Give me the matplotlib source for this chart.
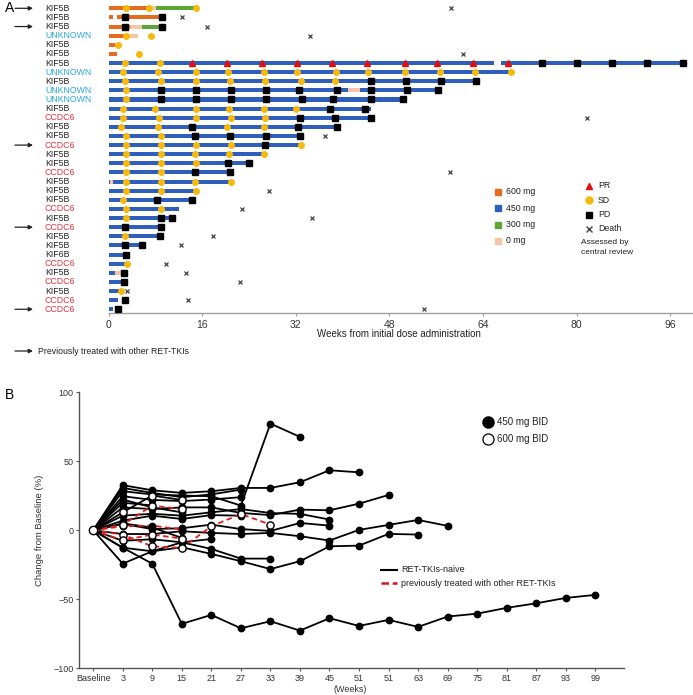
import numpy as np
import matplotlib
matplotlib.use("Agg")
import matplotlib.pyplot as plt
from matplotlib.lines import Line2D
from matplotlib.transforms import blended_transform_factory

plt.rcParams["font.family"] = ["Liberation Sans", "DejaVu Sans"]

W, H = 693, 695

# ── Panel A data ────────────────────────────────────────────────
fusion = ["KIF5B", "KIF5B", "KIF5B", "UNKNOWN", "KIF5B", "KIF5B", "KIF5B",
          "UNKNOWN", "KIF5B", "UNKNOWN", "UNKNOWN", "KIF5B", "CCDC6", "KIF5B",
          "KIF5B", "CCDC6", "KIF5B", "KIF5B", "CCDC6", "KIF5B", "KIF5B",
          "KIF5B", "CCDC6", "KIF5B", "CCDC6", "KIF5B", "KIF5B", "KIF6B",
          "CCDC6", "KIF5B", "CCDC6", "KIF5B", "CCDC6", "CCDC6"]
prior_tki = [0, 2, 15, 24, 33]

# (start week, end week, dose mg)
dosing = [
    [(0, 7.0, 600), (7.0, 8.1, 0), (8.1, 15.0, 300)],
    [(0, 0.8, 600), (1.5, 9.1, 600)],
    [(0, 3.6, 600), (3.6, 5.7, 0), (5.7, 9.1, 300)],
    [(0, 2.8, 600), (2.8, 5.1, 0)],
    [(0, 1.1, 600), (1.1, 2.1, 0)],
    [(0, 1.4, 600)],
    [(0, 65.9, 450), (67.0, 98.7, 450)],
    [(0, 68.8, 450)],
    [(0, 62.8, 450)],
    [(0, 41.0, 450), (41.0, 43.0, 0), (43.0, 56.3, 450)],
    [(0, 50.3, 450)],
    [(0, 44.9, 450)],
    [(0, 44.9, 450)],
    [(0, 39.0, 450)],
    [(0, 32.7, 450)],
    [(0, 32.9, 450)],
    [(0, 26.6, 450)],
    [(0, 24.0, 450)],
    [(0, 20.8, 450)],
    [(0, 0.3, 450), (0.3, 0.8, 0), (0.8, 21.0, 450)],
    [(0, 14.9, 450)],
    [(0, 14.3, 450)],
    [(0, 12.1, 450)],
    [(0, 10.9, 450)],
    [(0, 8.9, 450)],
    [(0, 8.8, 450)],
    [(0, 5.8, 450)],
    [(0, 3.0, 450)],
    [(0, 3.1, 450)],
    [(0, 1.1, 450), (1.1, 2.1, 0)],
    [(0, 2.7, 450)],
    [(0, 2.1, 450)],
    [(0, 1.6, 450)],
    [(0, 0.7, 450)],
]

pr_weeks = {6: [14.2, 20.3, 26.2, 32.2, 38.2, 44.1, 50.7, 56.1, 62.3, 68.2]}
sd_weeks = {
    0: [3.0, 7.0, 15.0], 3: [3.0, 7.2], 4: [1.6], 5: [5.2], 6: [2.8, 8.8],
    7: [2.5, 8.4, 14.9, 20.5, 26.5, 32.3, 38.8, 44.3, 50.7, 56.7, 62.6, 68.8],
    8: [2.8, 8.9, 15.0, 20.8, 26.8, 32.9, 38.7], 9: [3.0], 10: [3.0],
    11: [2.5, 8.0, 14.9, 20.6, 26.6, 32.0], 12: [2.4, 8.6, 15.0, 20.9, 26.8],
    13: [2.2, 8.4, 20.3, 26.5], 14: [3.0, 8.9], 15: [3.0, 8.9, 15.0, 20.9, 32.9],
    16: [3.0, 8.9, 14.8, 20.6, 26.6], 17: [3.0, 8.9, 15.0], 18: [3.0, 8.9],
    19: [3.0, 9.0, 14.7, 21.0], 20: [3.0, 8.9, 14.9], 21: [2.4], 22: [3.0, 8.9],
    23: [3.0], 25: [2.9], 28: [3.1], 31: [2.1],
}
pd_weeks = {
    1: [2.9, 9.1], 2: [2.9, 9.1], 6: [74.1, 80.0, 86.1, 92.1, 98.2],
    8: [44.8, 50.8, 56.8, 62.8],
    9: [9.0, 15.0, 20.9, 26.9, 32.6, 39.0, 44.9, 51.0, 56.3],
    10: [9.0, 15.0, 20.9, 26.9, 33.0, 38.3, 44.9, 50.3], 11: [37.9, 43.8],
    12: [32.7, 38.7, 44.9], 13: [14.3, 32.4, 39.0], 14: [14.8, 20.8, 26.9, 32.7],
    15: [26.8], 17: [20.5, 24.0], 18: [14.8, 20.8], 21: [8.3, 14.3],
    23: [9.0, 10.9], 24: [2.9, 8.9], 25: [8.8], 26: [2.9, 5.8], 27: [3.0],
    29: [2.7], 30: [2.7], 32: [2.9], 33: [1.7],
}
death_week = {0: 58.5, 1: 12.5, 2: 16.8, 3: 34.4, 5: 60.6, 12: 81.7, 14: 37.0,
              18: 58.3, 20: 27.5, 22: 22.9, 23: 34.8, 25: 17.9, 26: 12.4,
              28: 9.9, 29: 13.2, 30: 22.5, 31: 3.1, 32: 13.6, 33: 54.0}

# ── Panel B data ────────────────────────────────────────────────
week_labels = ["Baseline", "3", "9", "15", "21", "27", "33", "39", "45", "51",
               "51", "63", "69", "75", "81", "87", "93", "99"]

naive_450 = [
    [0, 28.3, 26.0, 25.2, 24.7, 17.9, 77.3, 67.7],
    [0, 32.7, 29.0, 27.1, 28.3, 30.7, 30.7, 34.8, 43.5, 42.0],
    [0, 30.7, 27.1, 24.0, 26.0, 29.5],
    [0, 24.7, 22.0, 21.2, 22.3, 24.0],
    [0, 16.6, 15.4, 16.6, 16.6, 12.6, 11.0, 15.0, 14.5, 19.3, 25.6],
    [0, 10.6, 12.0, 10.6, 13.0, 15.4, 12.5, 11.9, 7.8],
    [0, 7.0, 10.6, 8.2, 11.0, 10.6],
    [0, 4.6, 0.9, 1.5, 4.1, 0.9, -0.5, 5.3, 3.4],
    [0, -2.7, -2.7, -0.7, -1.9, -2.7, -1.9, -4.3, -7.4, 0.3, 3.9, 7.5, 3.2],
    [0, -7.6, -6.5, -8.7, -13.5, -20.5, -20.5],
    [0, -12.6, -15.2, -12.3, -17.1, -22.4, -28.1, -22.4, -11.6, -11.1, -2.6, -3.1],
    [0, -12.6, -24.2, -67.8, -61.3, -71.0, -65.9, -72.7, -63.7, -69.3, -64.9,
     -70.0, -62.5, -60.4, -56.2, -52.9, -49.0, -46.8],
    [0, -24.2, -15.2, -8.7, -6.3],
    [0, 22.3, 16.6, 13.0],
    [0, 20.0, 18.0],
    [0, 5.0, 2.0, -5.5],
]
naive_600 = [
    [0, 13.0, 25.2, 22.0],
]
prior_450 = [
    [0, 2.9, 3.4, 0.5],
]
prior_600 = [
    [0, 4.0, 17.9, 15.4],
    [0, -3.1, -11.6, -12.8, 2.9, 11.8, 4.1],
    [0, -7.2, -3.1, -6.0],
]

# ── Style constants ─────────────────────────────────────────────
DOSE_C = {600: "#e56c1e", 450: "#2f5fbd", 300: "#5aa637", 0: "#f4c6a6"}
LABEL_C = {"KIF5B": "#222222", "KIF6B": "#222222",
           "UNKNOWN": "#27a9e1", "CCDC6": "#e8313f"}
C_SD = "#f6b90c"
C_PR = "#e50d0d"
AX_GREY = "#a0a0a0"


def fx(px):
    return px / W


def fy(py):
    return 1 - py / H


fig = plt.figure(figsize=(W / 100, H / 100), dpi=100)
fig.patch.set_facecolor("white")

# ── Panel A: swimmer plot ───────────────────────────────────────
axA = fig.add_axes([fx(108.5), fy(313), 1 - fx(108.5), 313 / H])
axA.set_xlim(0, 99.9)
axA.set_ylim(33.41, -0.91)

for i, segs in enumerate(dosing):
    for s, e, d in segs:
        axA.barh(i, e - s, left=s, height=0.44, color=DOSE_C[d], lw=0, zorder=2)
for i, xs in pr_weeks.items():
    axA.plot(xs, [i] * len(xs), "^", ms=4.2, color=C_PR, mec=C_PR, zorder=4)
for i, xs in sd_weeks.items():
    axA.plot(xs, [i] * len(xs), "o", ms=4.0, color=C_SD, mec=C_SD, zorder=4)
for i, xs in pd_weeks.items():
    axA.plot(xs, [i] * len(xs), "s", ms=3.8, color="black", zorder=4)
for i, w in death_week.items():
    axA.plot(w, i, "x", ms=3.4, mew=0.9, color="#444444", zorder=4)

for side in ["top", "right", "left"]:
    axA.spines[side].set_visible(False)
axA.spines["bottom"].set_color(AX_GREY)
axA.spines["bottom"].set_linewidth(1.0)
axA.set_yticks([])
axA.set_xticks(np.arange(0, 97, 16))
axA.tick_params(axis="x", length=2, color=AX_GREY, labelsize=7.5,
                labelcolor="#333333", pad=3)
axA.patch.set_alpha(0)

trA = blended_transform_factory(fig.transFigure, axA.transData)
for i, name in enumerate(fusion):
    axA.text(fx(45), i, name, transform=trA, fontsize=6.3, va="center",
             ha="left", color=LABEL_C[name], clip_on=False)
for i in prior_tki:
    axA.annotate("", xy=(fx(33), i), xytext=(fx(15), i), xycoords=trA,
                 textcoords=trA,
                 arrowprops=dict(arrowstyle="-|>", color="#222222", lw=0.9,
                                 mutation_scale=6, shrinkA=0, shrinkB=0))

fig.text(fx(399), fy(334), "Weeks from initial dose administration",
         fontsize=7, ha="center", va="center", color="#222222")
fig.text(fx(5), fy(8), "A", fontsize=10, ha="left", va="center")

# note under panel A
axA.annotate("", xy=(fx(33), fy(351)), xytext=(fx(15), fy(351)),
             xycoords="figure fraction", textcoords="figure fraction",
             arrowprops=dict(arrowstyle="-|>", color="#222222", lw=0.9,
                             mutation_scale=6, shrinkA=0, shrinkB=0))
fig.text(fx(38), fy(351), "Previously treated with other RET-TKIs",
         fontsize=6.3, ha="left", va="center", color="#222222")

# panel A legends (drawn by hand)
dose_items = [(600, "600 mg"), (450, "450 mg"), (300, "300 mg"), (0, "0 mg")]
for k, (d, lab) in enumerate(dose_items):
    y = 192 + k * 16.3
    fig.add_artist(Line2D([fx(498)], [fy(y)], marker="s", ms=4.2,
                          color=DOSE_C[d], mec=DOSE_C[d], ls="none"))
    fig.text(fx(506), fy(y), lab, fontsize=6.3, va="center", color="#222222")

resp_items = [("^", C_PR, "PR"), ("o", C_SD, "SD"), ("s", "black", "PD"),
              ("x", "#444444", "Death")]
for k, (m, c, lab) in enumerate(resp_items):
    y = 186 + k * 14.3
    fig.add_artist(Line2D([fx(589)], [fy(y)], marker=m, ms=5, color=c,
                          mec=c, mew=1.0, ls="none"))
    fig.text(fx(598), fy(y), lab, fontsize=6.3, va="center", color="#222222")
fig.text(fx(581), fy(242), "Assessed by", fontsize=6, va="center",
         color="#222222")
fig.text(fx(581), fy(252), "central review", fontsize=6, va="center",
         color="#222222")

# ── Panel B: spider plot ────────────────────────────────────────
axB = fig.add_axes([fx(79.3), fy(668.3), fx(624) - fx(79.3), (668.3 - 392.3) / H])
axB.set_xlim(-0.47, 17.97)
axB.set_ylim(-100, 100)


def draw_series(series, color, ls, filled, z):
    for vals in series:
        xs = np.arange(len(vals))
        axB.plot(xs, vals, ls=ls, color=color, lw=1.3, zorder=z,
                 dashes=(3, 2) if ls == "--" else (None, None))
        axB.plot(xs[1:], vals[1:], "o", ms=4.6 if filled else 5.2,
                 mfc="black" if filled else "white", mec="black", mew=1.0,
                 zorder=z + 1)


draw_series(naive_450, "black", "-", True, 3)
draw_series(naive_600, "black", "-", False, 3)
draw_series(prior_450, "#e01b1b", "--", True, 5)
draw_series(prior_600, "#e01b1b", "--", False, 5)
axB.plot(0, 0, "o", ms=6, mfc="white", mec="black", mew=1.0, zorder=8)

for side in ["top", "right"]:
    axB.spines[side].set_visible(False)
for side in ["left", "bottom"]:
    axB.spines[side].set_color("#555555")
    axB.spines[side].set_linewidth(1.0)
axB.set_yticks([-100, -50, 0, 50, 100])
axB.set_xticks(np.arange(len(week_labels)))
axB.set_xticklabels(week_labels)
axB.tick_params(length=2, color="#555555", labelsize=6.5, labelcolor="#333333",
                pad=2)
axB.set_ylabel("Change from Baseline (%)", fontsize=6.8, color="#333333",
               labelpad=7)
fig.text(fx(350), fy(689), "(Weeks)", fontsize=6.5, ha="center", va="center",
         color="#333333")
fig.text(fx(5), fy(395), "B", fontsize=10, ha="left", va="center")

# panel B legends
fig.add_artist(Line2D([fx(487.7)], [fy(422.3)], marker="o", ms=8,
                      mfc="black", mec="black", ls="none"))
fig.add_artist(Line2D([fx(487.7)], [fy(439)], marker="o", ms=8,
                      mfc="white", mec="black", mew=0.9, ls="none"))
fig.text(fx(497), fy(422.3), "450 mg BID", fontsize=7, va="center",
         color="#222222")
fig.text(fx(497), fy(439), "600 mg BID", fontsize=7, va="center",
         color="#222222")
fig.add_artist(Line2D([fx(381), fx(397)], [fy(570), fy(570)], color="black",
                      lw=1.5))
fig.add_artist(Line2D([fx(381), fx(397)], [fy(583.3), fy(583.3)],
                      color="#d4141c", lw=1.8, dashes=(3, 1.5)))
fig.text(fx(401), fy(570), "RET-TKIs-naive", fontsize=6.5, va="center",
         color="#222222")
fig.text(fx(401), fy(583.3), "previously treated with other RET-TKIs",
         fontsize=6.5, va="center", color="#222222")

fig.savefig("out.png", dpi=100, facecolor="white")
